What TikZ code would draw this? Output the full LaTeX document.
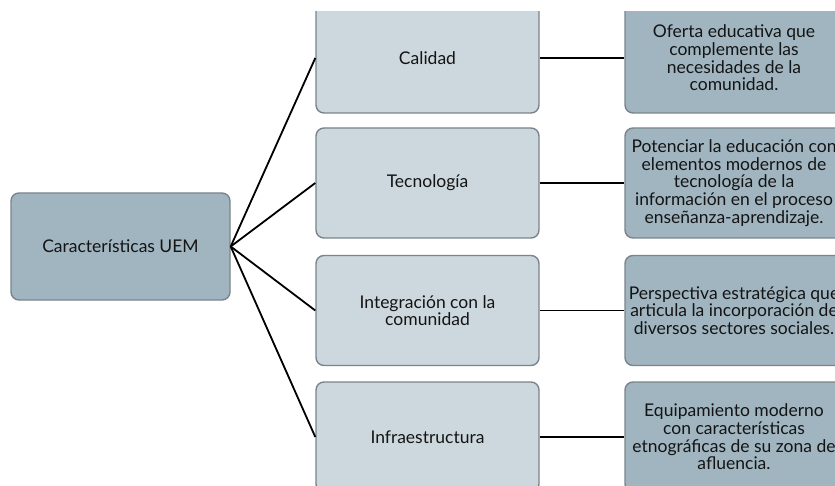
\documentclass[tikz,border=0pt]{standalone}
\usepackage{fontspec}
\setmainfont{Lato}
\definecolor{darkbox}{RGB}{160,181,192}
\definecolor{lightbox}{RGB}{205,216,222}
\definecolor{boxline}{RGB}{122,132,138}
\definecolor{txt}{RGB}{20,20,20}
\tikzset{
  basebox/.style={draw=boxline, line width=1.4pt, rounded corners=8pt, inner sep=0pt,
    align=center, text=txt, font=\fontsize{17.5}{17.6}\selectfont},
  rootbox/.style={basebox, fill=darkbox, minimum width=219pt, minimum height=107pt},
  midbox/.style={basebox, fill=lightbox, minimum width=223pt, minimum height=110pt},
  descbox/.style={basebox, fill=darkbox, minimum width=218pt, minimum height=110pt},
  conn/.style={draw=black, line width=1.8pt}
}
\begin{document}
\begin{tikzpicture}[x=1pt,y=-1pt]
\useasboundingbox (0,0) rectangle (835,486);
\begin{scope}
\clip (0,12) rectangle (835,486);
\node[rootbox] (root) at (120.5,246.5) {Características UEM};
\node[midbox] (m1) at (427.5,58) {Calidad};
\node[midbox] (m2) at (427.5,183) {Tecnología};
\node[midbox] (m3) at (427.5,310.5) {Integración con la\\comunidad};
\node[midbox] (m4) at (427.5,437) {Infraestructura};
\node[descbox] (d1) at (734,58) {Oferta educativa que\\complemente las\\necesidades de la\\comunidad.};
\node[descbox] (d2) at (734,183) {Potenciar la educación con\\elementos modernos de\\tecnología de la\\información en el proceso\\enseñanza-aprendizaje.};
\node[descbox] (d3) at (734,310.5) {Perspectiva estratégica que\\articula la incorporación de\\diversos sectores sociales.};
\node[descbox] (d4) at (734,437) {Equipamiento moderno\\con características\\etnográficas de su zona de\\afluencia.};
\foreach \i in {1,2,3,4} {
  \draw[conn] (root.east) -- (m\i.west);
  \draw[conn] (m\i.east) -- (d\i.west);
}
\end{scope}
\end{tikzpicture}
\end{document}
